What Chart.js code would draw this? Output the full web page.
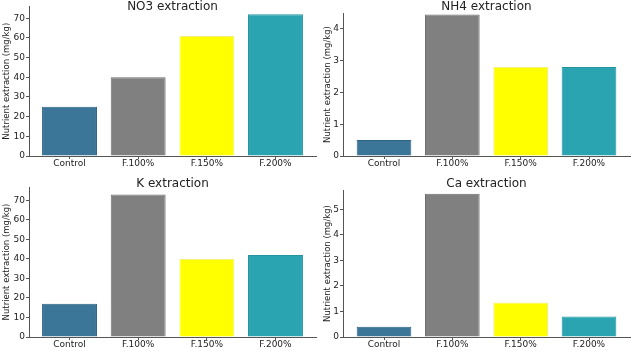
<!DOCTYPE html>
<html>
<head>
<meta charset="utf-8">
<script src="https://cdn.jsdelivr.net/npm/chart.js@4.4.0/dist/chart.umd.min.js"></script>
<style>
  html, body { margin: 0; padding: 0; background: #fff; }
  body { width: 631px; height: 351px; position: relative; overflow: hidden; }
  .box { position: absolute; }
</style>
</head>
<body>
<div class="box" id="b1" style="left:0px;top:0px;width:318px;height:175px;"><canvas id="c1"></canvas></div>
<div class="box" id="b2" style="left:318px;top:0px;width:313px;height:175px;"><canvas id="c2"></canvas></div>
<div class="box" id="b3" style="left:0px;top:175px;width:318px;height:176px;"><canvas id="c3"></canvas></div>
<div class="box" id="b4" style="left:318px;top:175px;width:313px;height:176px;"><canvas id="c4"></canvas></div>
<script>
// ---- data ----
const categories = ['Control', 'F.100%', 'F.150%', 'F.200%'];
const no3Values = [25, 40, 61, 72];
const nh4Values = [0.5, 4.45, 2.8, 2.8];
const kValues = [17, 73, 40, 42];
const caValues = [0.4, 5.6, 1.35, 0.8];
const titles = ['NO3 extraction', 'NH4 extraction', 'K extraction', 'Ca extraction'];
const yLabel = 'Nutrient extraction (mg/kg)';
const yMax = [76, 4.5, 76.8, 5.75];
const yStep = [10, 1, 10, 1];

// ---- styles ----
const fillColors = ['#3b7699', '#808080', '#ffff00', '#2ba4b1'];
const edgeColors = ['#2c6485', '#6f6f6f', '#f0f07a', '#22939f'];
const FONT = "'DejaVu Sans', sans-serif";

const titlePlugin = {
  id: 'subTitle',
  afterDraw(chart, args, opts) {
    const {ctx, chartArea} = chart;
    ctx.save();
    ctx.font = '12px ' + FONT;
    ctx.fillStyle = '#222';
    ctx.textAlign = 'center';
    ctx.textBaseline = 'middle';
    ctx.fillText(opts.text, (chartArea.left + chartArea.right) / 2, opts.y);
    ctx.restore();
  }
};

function makeChart(id, values, idx, lay) {
  new Chart(document.getElementById(id), {
    type: 'bar',
    data: {
      datasets: [{
        data: values.map((v, i) => ({x: i, y: v})),
        backgroundColor: fillColors,
        borderColor: edgeColors,
        borderWidth: 1,
        barPercentage: 0.8,
        categoryPercentage: 1.0
      }]
    },
    options: {
      responsive: true,
      maintainAspectRatio: false,
      animation: false,
      layout: { padding: { left: 0, right: lay.pr, top: lay.pt, bottom: 0 } },
      plugins: {
        legend: { display: false },
        tooltip: { enabled: false },
        subTitle: { text: titles[idx], y: lay.ty }
      },
      scales: {
        x: {
          type: 'linear',
          offset: false,
          min: lay.xmin,
          max: lay.xmax,
          afterBuildTicks: s => { s.ticks = categories.map((c, i) => ({value: i})); },
          afterFit: s => { s.height = lay.xh; },
          ticks: {
            callback: v => categories[v] ?? '',
            font: { family: FONT, size: 9 },
            color: '#222',
            padding: -1,
            maxRotation: 0,
            autoSkip: false
          },
          grid: { offset: false, drawOnChartArea: false, drawTicks: true, tickLength: 3, color: '#555', tickColor: '#555' },
          border: { display: true, color: '#555', width: 1 }
        },
        y: {
          type: 'linear',
          min: 0,
          max: yMax[idx],
          afterFit: s => { s.width = lay.yw; },
          ticks: {
            stepSize: yStep[idx],
            includeBounds: false,
            font: { family: FONT, size: 9 },
            color: '#222',
            padding: 1
          },
          grid: { drawOnChartArea: false, drawTicks: true, tickLength: 3, color: '#555', tickColor: '#555' },
          border: { display: true, color: '#555', width: 1 },
          title: {
            display: true,
            text: yLabel,
            font: { family: FONT, size: 8.5 },
            color: '#222',
            padding: { top: lay.tp, bottom: 0 }
          }
        }
      }
    },
    plugins: [titlePlugin]
  });
}

makeChart('c1', no3Values, 0, { pr: 2, pt: 5, xh: 19, yw: 29, tp: 2, ty: 7, xmin: -0.59, xmax: 3.59 });
makeChart('c2', nh4Values, 1, { pr: 1, pt: 13, xh: 19, yw: 25, tp: 5, ty: 7, xmin: -0.6, xmax: 3.6 });
makeChart('c3', kValues, 2, { pr: 2, pt: 12, xh: 14, yw: 29, tp: 2, ty: 9, xmin: -0.59, xmax: 3.59 });
makeChart('c4', caValues, 3, { pr: 1, pt: 15, xh: 14, yw: 25, tp: 5, ty: 9, xmin: -0.6, xmax: 3.6 });
</script>
</body>
</html>
